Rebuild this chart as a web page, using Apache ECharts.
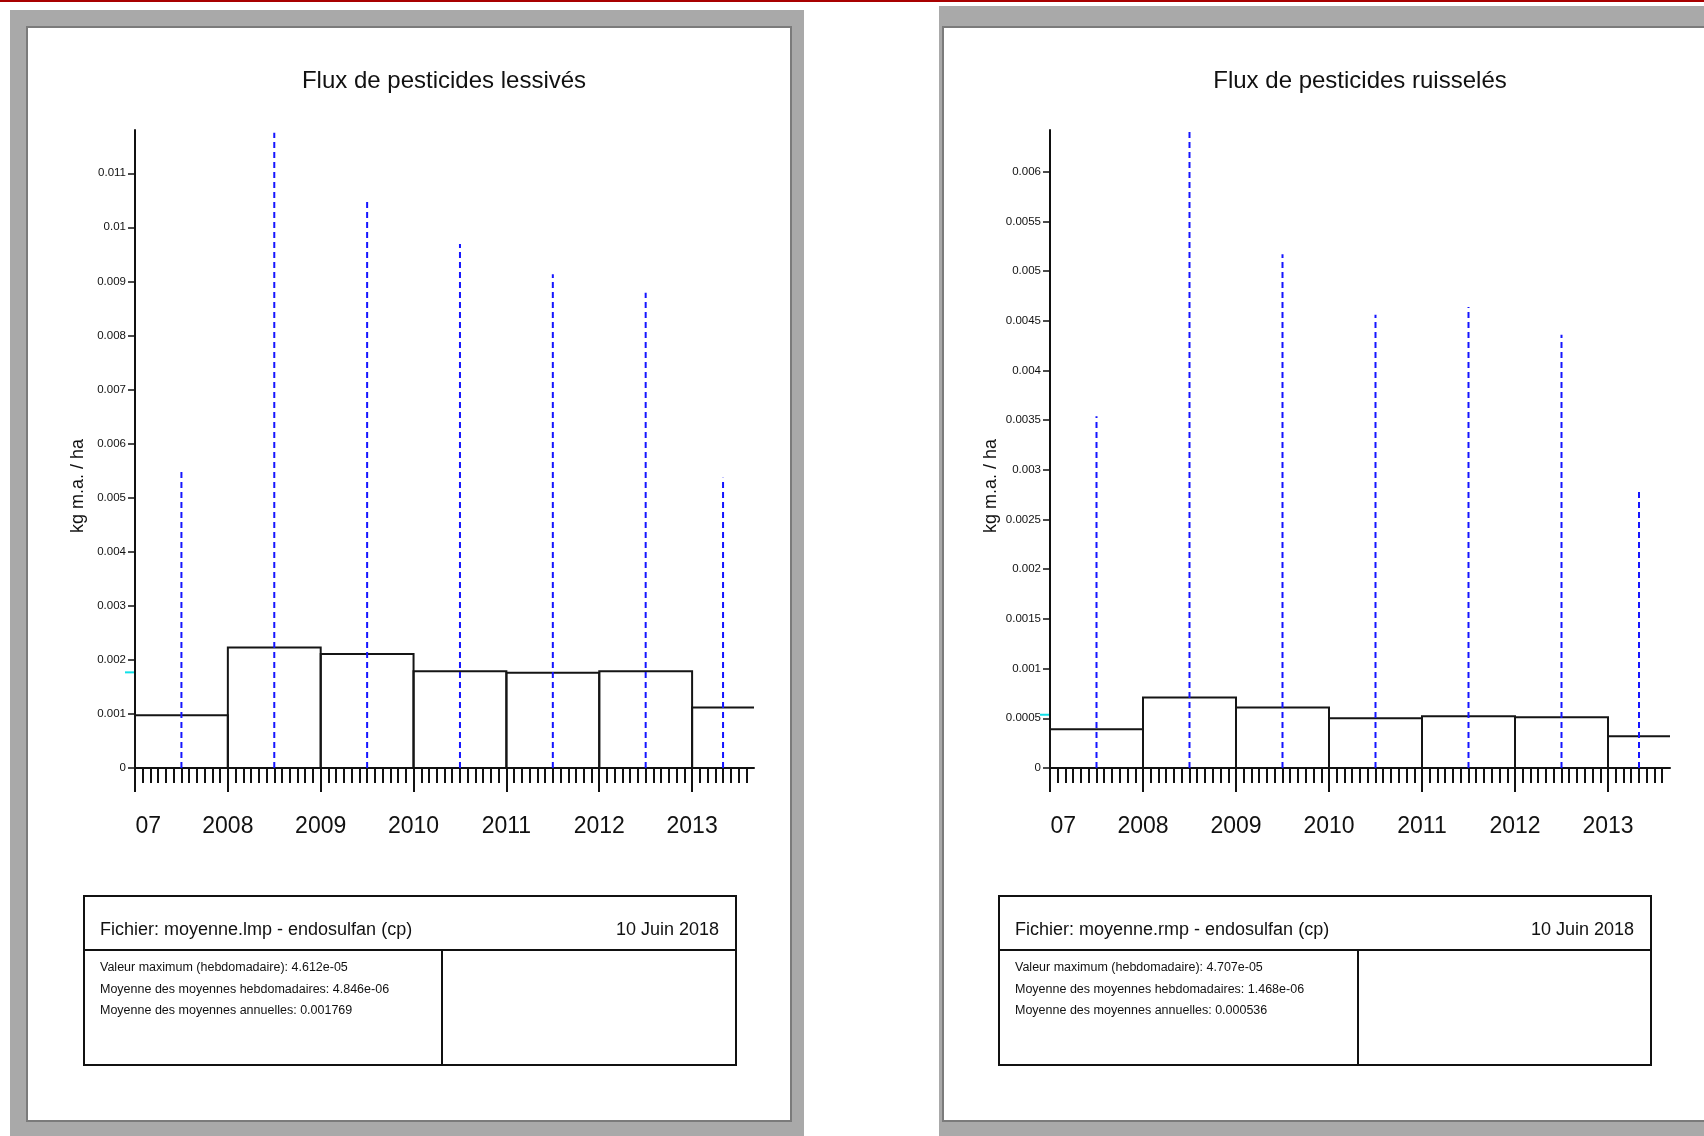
<!DOCTYPE html>
<html>
<head>
<meta charset="utf-8">
<script src="https://cdn.jsdelivr.net/npm/echarts@6/dist/echarts.min.js"></script>
<style>
  html, body { margin: 0; padding: 0; background: #ffffff; }
  #chart { width: 1704px; height: 1136px; }
</style>
</head>
<body>
<div id="chart"></div>
<script>
// Yearly periods (the last one runs from January to the end of August 2013)
const periodStarts = [2007, 2008, 2009, 2010, 2011, 2012, 2013];
const periodEnds = [2008, 2009, 2010, 2011, 2012, 2013, 2013 + 8 / 12];
const xTickLabels = ['07', '2008', '2009', '2010', '2011', '2012', '2013'];

// Leached pesticide flux (kg a.i. / ha)
const leachedAnnual = [0.000975, 0.00223, 0.00211, 0.00179, 0.00176, 0.00179, 0.00112];
const leachedPeak = [0.00554, 0.01175, 0.01048, 0.00969, 0.00913, 0.00879, 0.00537];
const leachedMean = 0.001769;
const leachedYTicks = ['0', '0.001', '0.002', '0.003', '0.004', '0.005', '0.006', '0.007', '0.008', '0.009', '0.01', '0.011'];

// Runoff pesticide flux (kg a.i. / ha)
const runoffAnnual = [0.00039, 0.00071, 0.00061, 0.00050, 0.00052, 0.00051, 0.00032];
const runoffPeak = [0.00354, 0.0064, 0.00517, 0.00456, 0.00464, 0.00436, 0.00281];
const runoffMean = 0.000536;
const runoffYTicks = ['0', '0.0005', '0.001', '0.0015', '0.002', '0.0025', '0.003', '0.0035', '0.004', '0.0045', '0.005', '0.0055', '0.006'];

// Captions
const leachedTitle = 'Flux de pesticides lessivés';
const runoffTitle = 'Flux de pesticides ruisselés';
const yName = 'kg m.a. / ha';
const dateText = '10 Juin 2018';
const leachedFile = 'Fichier: moyenne.lmp - endosulfan (cp)';
const runoffFile = 'Fichier: moyenne.rmp - endosulfan (cp)';
const leachedStats = [
  'Valeur maximum (hebdomadaire): 4.612e-05',
  'Moyenne des moyennes hebdomadaires: 4.846e-06',
  'Moyenne des moyennes annuelles: 0.001769'
];
const runoffStats = [
  'Valeur maximum (hebdomadaire): 4.707e-05',
  'Moyenne des moyennes hebdomadaires: 1.468e-06',
  'Moyenne des moyennes annuelles: 0.000536'
];

const FONT = '"Liberation Sans", Arial, Helvetica, sans-serif';
const xMin = periodStarts[0];
const xMax = periodEnds[periodEnds.length - 1];

// month ticks between the year ticks
const monthTicks = [];
for (let y = xMin; y < xMax; y++) {
  for (let m = 1; m < 12; m++) {
    const v = y + m / 12;
    if (v < xMax - 1e-6) monthTicks.push(v);
  }
}

function labelFor(list, v) {
  for (let i = 0; i < list.length; i++) {
    if (Math.abs(Number(list[i]) - v) < 1e-9) return list[i];
  }
  return '';
}

function makeXAxes(gridIndex) {
  return [
    {
      type: 'value', gridIndex, position: 'bottom', min: xMin, max: xMax, interval: 1,
      splitLine: { show: false },
      axisLine: { show: true, lineStyle: { color: '#111', width: 2 } },
      axisTick: { show: true, length: 24, customValues: periodStarts, lineStyle: { color: '#111', width: 2 } },
      axisLabel: {
        show: true, margin: 47, customValues: periodStarts,
        fontFamily: FONT, fontSize: 23, color: '#111',
        formatter: (v) => {
          const t = xTickLabels[periodStarts.indexOf(v)];
          return v === xMin ? '{first|' + t + '}' : t;
        },
        rich: { first: { width: 52, align: 'right', fontFamily: FONT, fontSize: 23, color: '#111' } }
      }
    },
    {
      type: 'value', gridIndex, position: 'bottom', min: xMin, max: xMax,
      splitLine: { show: false },
      axisLine: { show: false },
      axisLabel: { show: false },
      axisTick: { show: true, length: 15, customValues: monthTicks, lineStyle: { color: '#111', width: 2 } }
    }
  ];
}

function makeYAxis(gridIndex, ticks, max) {
  const vals = ticks.map(Number);
  return {
    type: 'value', gridIndex, min: 0, max,
    splitLine: { show: false },
    axisLine: { show: true, lineStyle: { color: '#111', width: 2 } },
    axisTick: { show: true, length: 7, customValues: vals, lineStyle: { color: '#111', width: 1.5 } },
    axisLabel: {
      show: true, margin: 9, customValues: vals,
      fontFamily: FONT, fontSize: 11.5, color: '#111',
      formatter: (v) => labelFor(ticks, v)
    }
  };
}

function stepSeries(xAxisIndex, yAxisIndex, values) {
  return {
    type: 'custom', xAxisIndex, yAxisIndex, z: 4, silent: true,
    data: values.map((v, i) => [periodStarts[i], periodEnds[i], v, i === values.length - 1 ? 1 : 0]),
    renderItem(params, api) {
      const s = api.value(0), e = api.value(1), v = api.value(2), last = api.value(3);
      const p0 = api.coord([s, 0]), p1 = api.coord([s, v]), p2 = api.coord([e, v]), p3 = api.coord([e, 0]);
      const pts = last ? [p0, p1, p2] : [p0, p1, p2, p3];
      return { type: 'polyline', shape: { points: pts }, style: { stroke: '#151515', lineWidth: 2, fill: null } };
    }
  };
}

function peakSeries(xAxisIndex, yAxisIndex, values) {
  return {
    type: 'custom', xAxisIndex, yAxisIndex, z: 6, silent: true,
    data: values.map((v, i) => [(periodStarts[i] + periodEnds[i]) / 2, v]),
    renderItem(params, api) {
      const x = api.value(0), v = api.value(1);
      const a = api.coord([x, 0]), b = api.coord([x, v]);
      return {
        type: 'line',
        shape: { x1: a[0], y1: a[1], x2: b[0], y2: b[1] },
        style: { stroke: '#1515ff', lineWidth: 2, lineDash: [6, 4] }
      };
    }
  };
}

function meanSeries(xAxisIndex, yAxisIndex, mean) {
  return {
    type: 'custom', xAxisIndex, yAxisIndex, z: 7, silent: true, clip: false,
    data: [[xMin, mean]],
    renderItem(params, api) {
      const p = api.coord([api.value(0), api.value(1)]);
      return {
        type: 'line',
        shape: { x1: p[0] - 10, y1: p[1], x2: p[0] - 1, y2: p[1] },
        style: { stroke: '#10e0e8', lineWidth: 2 }
      };
    }
  };
}

function text(x, y, str, size, align, extra) {
  return Object.assign({
    type: 'text', x, y, z: 10, silent: true,
    style: { text: str, fontFamily: FONT, fontSize: size, fill: '#111', align: align, verticalAlign: 'middle' }
  }, extra || {});
}

function infoBox(x0, x1, xDiv, file, stats) {
  const top = 896, mid = 950, bottom = 1065;
  const els = [
    { type: 'rect', z: 9, silent: true, shape: { x: x0, y: top, width: x1 - x0, height: bottom - top },
      style: { fill: null, stroke: '#111', lineWidth: 2 } },
    { type: 'line', z: 9, silent: true, shape: { x1: x0, y1: mid, x2: x1, y2: mid }, style: { stroke: '#111', lineWidth: 2 } },
    { type: 'line', z: 9, silent: true, shape: { x1: xDiv, y1: mid, x2: xDiv, y2: bottom }, style: { stroke: '#111', lineWidth: 2 } },
    text(x0 + 16, 930, file, 18, 'left'),
    text(x1 - 17, 930, dateText, 18, 'right')
  ];
  stats.forEach((s, i) => els.push(text(x0 + 16, 968 + i * 21.3, s, 12.5, 'left')));
  return els;
}

const graphics = [
  // page frames
  { type: 'rect', z: -10, silent: true, shape: { x: 0, y: 0, width: 1704, height: 2 }, style: { fill: '#a80000' } },
  { type: 'rect', z: -10, silent: true, shape: { x: 10, y: 10, width: 794, height: 1126 }, style: { fill: '#a9a9a9' } },
  { type: 'rect', z: -9, silent: true, shape: { x: 27, y: 27, width: 764, height: 1094 },
    style: { fill: '#ffffff', stroke: '#7b7b7b', lineWidth: 2 } },
  { type: 'rect', z: -10, silent: true, shape: { x: 939, y: 6, width: 765, height: 1130 }, style: { fill: '#a9a9a9' } },
  { type: 'rect', z: -9, silent: true, shape: { x: 943, y: 27, width: 800, height: 1094 },
    style: { fill: '#ffffff', stroke: '#7b7b7b', lineWidth: 2 } },
  // titles
  text(444, 81, leachedTitle, 24, 'center'),
  text(1360, 81, runoffTitle, 24, 'center'),
  // y axis names
  text(78, 486, yName, 18, 'center', { rotation: Math.PI / 2 }),
  text(991, 486, yName, 18, 'center', { rotation: Math.PI / 2 })
].concat(
  infoBox(84, 736, 442, leachedFile, leachedStats),
  infoBox(999, 1651, 1358, runoffFile, runoffStats)
);

const chart = echarts.init(document.getElementById('chart'), null, { renderer: 'canvas' });
chart.setOption({
  animation: false,
  backgroundColor: '#ffffff',
  grid: [
    { left: 135, top: 130, width: 619, height: 638 },
    { left: 1050, top: 130, width: 620, height: 638 }
  ],
  xAxis: makeXAxes(0).concat(makeXAxes(1)),
  yAxis: [
    makeYAxis(0, leachedYTicks, 0.0118),
    makeYAxis(1, runoffYTicks, 0.00642)
  ],
  graphic: { elements: graphics },
  series: [
    stepSeries(0, 0, leachedAnnual),
    peakSeries(0, 0, leachedPeak),
    meanSeries(0, 0, leachedMean),
    stepSeries(2, 1, runoffAnnual),
    peakSeries(2, 1, runoffPeak),
    meanSeries(2, 1, runoffMean)
  ]
});
</script>
</body>
</html>
